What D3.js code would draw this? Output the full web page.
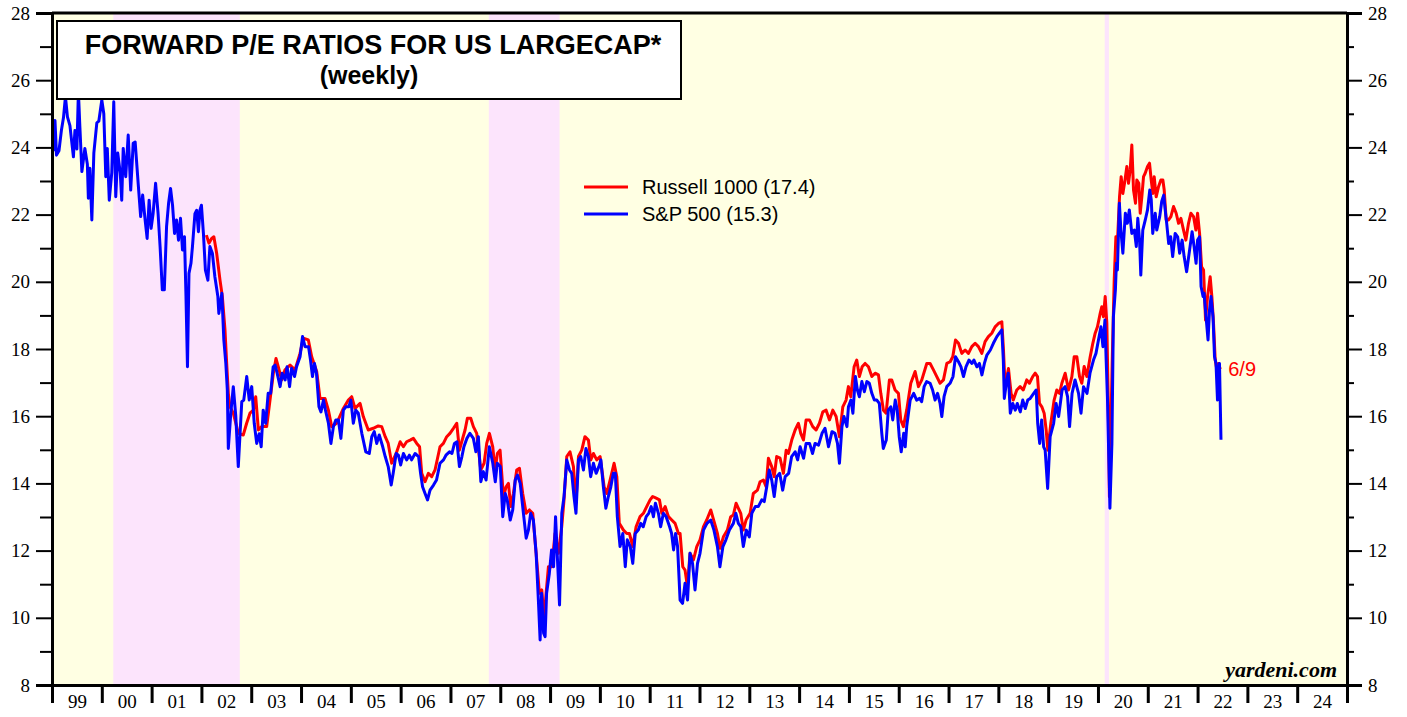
<!DOCTYPE html>
<html><head><meta charset="utf-8">
<script src="https://cdn.jsdelivr.net/npm/d3@7/dist/d3.min.js"></script>
<style>body{margin:0;background:#fff;overflow:hidden}</style>
</head><body><svg id="c" width="1407" height="717"></svg>
<script>
// ---------------- DATA ----------------
const yearLabels = ["99","00","01","02","03","04","05","06","07","08","09","10","11","12","13","14","15","16","17","18","19","20","21","22","23","24"];
const yTicks = [8,10,12,14,16,18,20,22,24,26,28];
const shadeStart = [2000.23, 2007.77, 2020.135];
const shadeEnd   = [2002.77, 2009.19, 2020.22];
const seriesNames = ["Russell 1000 (17.4)", "S&P 500 (15.3)"];
const lastLabel = "6/9";

const spxDates = [1999.00,1999.03,1999.06,1999.09,1999.14,1999.19,1999.23,1999.27,1999.31,1999.36,1999.43,1999.46,1999.50,1999.53,1999.56,1999.60,1999.66,1999.71,1999.73,1999.76,1999.80,1999.84,1999.90,1999.94,2000.00,2000.04,2000.08,2000.11,2000.15,2000.20,2000.24,2000.28,2000.32,2000.37,2000.40,2000.43,2000.48,2000.53,2000.58,2000.63,2000.67,2000.73,2000.78,2000.82,2000.87,2000.91,2000.95,2000.99,2001.03,2001.08,2001.13,2001.17,2001.215,2001.255,2001.30,2001.34,2001.38,2001.42,2001.46,2001.50,2001.54,2001.58,2001.62,2001.66,2001.69,2001.72,2001.75,2001.79,2001.82,2001.87,2001.905,2001.94,2001.97,2002.00,2002.04,2002.08,2002.13,2002.17,2002.22,2002.27,2002.33,2002.35,2002.41,2002.45,2002.49,2002.52,2002.54,2002.59,2002.64,2002.69,2002.74,2002.81,2002.85,2002.91,2002.96,2003.01,2003.06,2003.11,2003.16,2003.20,2003.24,2003.29,2003.34,2003.39,2003.44,2003.48,2003.52,2003.58,2003.62,2003.68,2003.72,2003.77,2003.81,2003.87,2003.91,2003.98,2004.03,2004.08,2004.15,2004.19,2004.23,2004.27,2004.31,2004.36,2004.40,2004.45,2004.49,2004.55,2004.60,2004.65,2004.70,2004.75,2004.80,2004.85,2004.90,2004.96,2005.00,2005.05,2005.10,2005.15,2005.22,2005.30,2005.37,2005.42,2005.47,2005.52,2005.57,2005.64,2005.69,2005.75,2005.81,2005.85,2005.91,2005.955,2006.00,2006.055,2006.12,2006.175,2006.22,2006.29,2006.36,2006.40,2006.44,2006.49,2006.54,2006.59,2006.66,2006.72,2006.79,2006.86,2006.91,2006.98,2007.03,2007.08,2007.13,2007.18,2007.23,2007.27,2007.33,2007.39,2007.46,2007.51,2007.56,2007.61,2007.66,2007.715,2007.78,2007.85,2007.90,2007.94,2008.00,2008.05,2008.10,2008.14,2008.20,2008.25,2008.30,2008.345,2008.40,2008.465,2008.52,2008.565,2008.61,2008.665,2008.72,2008.765,2008.80,2008.83,2008.87,2008.90,2008.93,2008.985,2009.03,2009.07,2009.11,2009.155,2009.19,2009.235,2009.28,2009.335,2009.39,2009.435,2009.48,2009.52,2009.57,2009.615,2009.67,2009.72,2009.77,2009.815,2009.87,2009.925,2009.98,2010.02,2010.07,2010.12,2010.17,2010.22,2010.27,2010.31,2010.35,2010.405,2010.46,2010.51,2010.55,2010.61,2010.66,2010.71,2010.77,2010.82,2010.87,2010.93,2010.98,2011.03,2011.075,2011.115,2011.175,2011.22,2011.275,2011.33,2011.40,2011.44,2011.48,2011.52,2011.56,2011.61,2011.66,2011.71,2011.76,2011.81,2011.86,2011.91,2011.96,2012.01,2012.08,2012.15,2012.225,2012.29,2012.36,2012.41,2012.47,2012.53,2012.60,2012.68,2012.73,2012.78,2012.83,2012.88,2012.94,2013.00,2013.05,2013.12,2013.18,2013.25,2013.30,2013.35,2013.40,2013.45,2013.50,2013.55,2013.61,2013.67,2013.72,2013.79,2013.85,2013.92,2013.97,2014.02,2014.09,2014.14,2014.21,2014.27,2014.32,2014.39,2014.46,2014.52,2014.59,2014.66,2014.72,2014.77,2014.81,2014.86,2014.90,2014.96,2014.99,2015.04,2015.08,2015.13,2015.17,2015.21,2015.26,2015.31,2015.36,2015.41,2015.46,2015.51,2015.56,2015.61,2015.66,2015.69,2015.75,2015.79,2015.84,2015.88,2015.93,2015.97,2016.01,2016.05,2016.10,2016.13,2016.16,2016.23,2016.30,2016.36,2016.42,2016.46,2016.51,2016.56,2016.63,2016.68,2016.73,2016.78,2016.83,2016.865,2016.91,2016.965,2017.03,2017.09,2017.14,2017.20,2017.25,2017.30,2017.35,2017.41,2017.47,2017.51,2017.57,2017.62,2017.67,2017.72,2017.77,2017.84,2017.90,2017.97,2018.02,2018.07,2018.10,2018.12,2018.17,2018.20,2018.24,2018.29,2018.34,2018.38,2018.44,2018.49,2018.54,2018.59,2018.64,2018.71,2018.76,2018.79,2018.83,2018.87,2018.91,2018.94,2018.99,2019.04,2019.11,2019.16,2019.21,2019.28,2019.34,2019.39,2019.43,2019.48,2019.54,2019.61,2019.66,2019.71,2019.78,2019.84,2019.91,2019.96,2020.01,2020.06,2020.10,2020.14,2020.165,2020.19,2020.22,2020.24,2020.28,2020.31,2020.35,2020.37,2020.39,2020.43,2020.46,2020.50,2020.55,2020.59,2020.63,2020.68,2020.73,2020.77,2020.80,2020.835,2020.86,2020.90,2020.95,2020.995,2021.04,2021.07,2021.10,2021.15,2021.18,2021.24,2021.28,2021.32,2021.35,2021.38,2021.42,2021.46,2021.50,2021.55,2021.60,2021.64,2021.69,2021.73,2021.78,2021.84,2021.89,2021.93,2021.97,2022.00,2022.04,2022.07,2022.11,2022.13,2022.17,2022.21,2022.24,2022.27,2022.31,2022.34,2022.37,2022.40,2022.42,2022.44,2022.47];
const spxValues = [24.8,23.92,24.8,23.77,23.9,24.52,24.88,25.51,24.91,24.65,23.72,24.5,23.95,25.66,24.6,23.28,23.97,23.5,22.49,23.38,21.84,23.83,24.73,24.78,25.41,25.0,23.13,23.97,22.43,23.25,25.36,22.53,23.83,23.25,22.43,23.97,23.13,24.37,22.73,24.12,24.16,22.93,21.94,22.58,21.84,21.29,22.43,21.59,22.03,22.93,22.03,21.05,19.76,19.76,21.64,22.33,22.78,22.28,21.44,21.84,21.24,21.89,20.95,21.34,19.56,17.47,20.25,20.55,21.05,22.03,22.13,21.49,22.13,22.28,21.44,20.35,20.05,21.05,20.85,20.15,19.56,19.06,19.66,18.27,17.57,16.78,15.04,16.09,16.88,16.0,14.5,16.43,16.48,17.18,16.48,16.88,15.79,15.19,15.48,15.09,16.18,15.79,16.68,16.68,17.47,17.52,17.28,16.88,17.28,17.08,17.47,16.88,17.43,17.18,17.47,17.77,18.37,18.07,18.07,17.67,17.18,17.57,17.28,16.28,16.13,16.48,16.18,15.79,15.19,15.69,15.89,15.89,15.34,16.18,16.28,16.28,16.48,15.79,16.18,16.09,15.49,14.94,14.89,15.39,15.54,15.19,15.44,15.09,14.80,14.50,13.95,14.30,14.89,14.84,14.55,14.89,14.70,14.84,14.70,14.89,14.80,14.30,13.90,13.70,13.51,13.80,13.95,14.10,14.60,14.70,14.84,14.94,14.89,15.19,15.24,14.50,14.80,15.09,15.34,15.49,15.34,14.94,15.39,14.05,14.35,14.10,15.09,14.60,14.05,14.60,14.50,13.01,13.70,13.51,12.91,13.21,14.10,14.25,14.00,13.11,12.37,12.61,13.11,12.91,11.92,10.53,9.34,10.73,9.54,9.44,10.73,11.32,12.02,11.52,13.01,11.52,10.38,13.11,13.61,14.70,14.40,14.30,13.61,13.11,14.70,14.80,14.40,15.04,14.80,14.20,14.60,14.30,14.50,14.70,13.90,13.26,13.61,13.90,14.30,14.30,13.01,12.12,12.51,11.52,12.32,12.12,11.62,12.51,12.61,12.81,12.71,13.01,13.11,13.31,13.01,13.41,13.11,12.71,13.11,13.01,12.71,12.51,12.02,12.51,12.12,10.53,10.43,11.03,10.53,11.92,11.62,10.83,11.62,11.92,12.61,12.81,12.91,12.61,12.12,11.52,12.12,12.32,12.61,12.81,13.11,12.81,12.71,12.12,12.61,12.41,13.11,13.31,13.31,13.51,13.46,13.90,14.40,14.10,13.61,14.20,14.30,13.80,14.20,14.30,14.80,14.94,14.70,15.09,14.75,15.19,15.19,14.89,15.19,15.14,15.49,15.64,15.09,15.54,15.49,15.19,14.60,15.69,15.99,15.69,16.28,16.48,16.09,17.18,16.78,16.58,17.03,16.73,17.03,16.98,16.68,16.48,16.48,16.38,15.49,15.04,15.29,16.18,16.28,15.89,16.48,16.18,15.39,14.94,15.49,15.09,15.69,16.48,16.68,16.48,16.53,16.43,16.88,17.03,16.98,16.78,16.48,16.68,16.38,15.99,16.58,16.88,16.98,17.18,17.77,17.62,17.47,17.18,17.47,17.67,17.57,17.67,17.47,17.57,17.23,17.57,17.82,17.97,18.17,18.37,18.47,18.57,17.67,16.53,17.08,17.28,16.09,16.38,16.18,16.38,16.13,16.48,16.23,16.48,16.53,16.68,16.78,15.79,15.19,15.89,15.09,14.99,13.85,15.39,15.79,16.38,15.99,16.78,16.88,16.58,15.69,16.68,17.08,16.68,16.09,16.88,16.68,17.28,17.67,17.87,18.27,18.66,18.07,18.86,17.67,16.58,14.60,13.26,15.19,18.96,19.76,20.55,20.35,22.34,21.54,20.85,22.04,21.74,22.14,21.44,21.54,21.05,21.89,21.24,20.20,21.54,21.84,22.14,22.73,22.44,21.44,22.04,21.54,21.94,22.39,22.58,22.14,21.74,21.14,21.34,20.75,21.44,21.34,20.85,21.24,20.75,20.30,20.95,21.49,21.05,20.55,21.24,21.34,19.86,19.56,19.66,18.96,18.27,19.16,19.56,18.96,17.77,17.57,16.48,17.38,17.57,15.3];

const rusDates = [2002.10,2002.15,2002.205,2002.25,2002.306,2002.373,2002.42,2002.473,2002.507,2002.54,2002.574,2002.64,2002.741,2002.84,2002.908,2002.975,2003.042,2003.09,2003.143,2003.21,2003.31,2003.377,2003.444,2003.497,2003.544,2003.611,2003.678,2003.779,2003.879,2003.98,2004.046,2004.147,2004.214,2004.314,2004.381,2004.481,2004.549,2004.615,2004.716,2004.85,2004.95,2005.017,2005.084,2005.15,2005.185,2005.25,2005.35,2005.45,2005.55,2005.62,2005.69,2005.75,2005.82,2005.91,2005.99,2006.055,2006.12,2006.19,2006.256,2006.323,2006.38,2006.423,2006.49,2006.557,2006.624,2006.69,2006.79,2006.858,2006.925,2006.99,2007.06,2007.126,2007.18,2007.226,2007.293,2007.34,2007.407,2007.46,2007.527,2007.608,2007.675,2007.728,2007.782,2007.849,2007.896,2007.943,2007.996,2008.063,2008.117,2008.164,2008.21,2008.264,2008.33,2008.385,2008.45,2008.52,2008.585,2008.652,2008.72,2008.786,2008.833,2008.88,2008.92,2008.967,2009.034,2009.10,2009.167,2009.234,2009.28,2009.335,2009.40,2009.469,2009.52,2009.57,2009.636,2009.70,2009.77,2009.817,2009.87,2009.937,2010.004,2010.085,2010.138,2010.205,2010.285,2010.34,2010.39,2010.473,2010.54,2010.593,2010.66,2010.727,2010.807,2010.874,2010.94,2011.008,2011.06,2011.13,2011.196,2011.243,2011.31,2011.377,2011.443,2011.51,2011.577,2011.61,2011.664,2011.71,2011.757,2011.81,2011.878,2011.945,2012.01,2012.08,2012.145,2012.226,2012.293,2012.36,2012.413,2012.48,2012.56,2012.627,2012.68,2012.734,2012.781,2012.828,2012.88,2012.935,2013.016,2013.08,2013.163,2013.216,2013.283,2013.337,2013.384,2013.45,2013.50,2013.55,2013.618,2013.685,2013.74,2013.785,2013.852,2013.92,2013.986,2014.033,2014.087,2014.14,2014.207,2014.274,2014.34,2014.408,2014.475,2014.542,2014.61,2014.676,2014.743,2014.81,2014.877,2014.943,2014.99,2015.037,2015.104,2015.157,2015.21,2015.265,2015.325,2015.392,2015.46,2015.526,2015.593,2015.64,2015.693,2015.747,2015.813,2015.86,2015.927,2015.994,2016.04,2016.094,2016.16,2016.242,2016.329,2016.396,2016.463,2016.563,2016.63,2016.697,2016.764,2016.83,2016.898,2016.965,2017.032,2017.085,2017.14,2017.20,2017.266,2017.333,2017.40,2017.467,2017.534,2017.60,2017.668,2017.734,2017.80,2017.868,2017.935,2018.002,2018.07,2018.103,2018.136,2018.203,2018.256,2018.30,2018.37,2018.437,2018.50,2018.57,2018.624,2018.69,2018.74,2018.786,2018.826,2018.873,2018.92,2018.96,2018.994,2019.054,2019.12,2019.174,2019.228,2019.275,2019.342,2019.409,2019.476,2019.523,2019.576,2019.63,2019.676,2019.723,2019.777,2019.844,2019.897,2019.944,2019.99,2020.045,2020.078,2020.11,2020.145,2020.178,2020.205,2020.23,2020.285,2020.326,2020.36,2020.393,2020.433,2020.466,2020.50,2020.533,2020.58,2020.613,2020.647,2020.68,2020.714,2020.754,2020.78,2020.82,2020.848,2020.881,2020.915,2020.948,2020.995,2021.035,2021.069,2021.102,2021.129,2021.169,2021.216,2021.263,2021.303,2021.33,2021.37,2021.417,2021.464,2021.517,2021.57,2021.618,2021.665,2021.718,2021.765,2021.818,2021.865,2021.919,2021.966,2022.00,2022.04,2022.08,2022.12,2022.16,2022.20,2022.253,2022.287,2022.32,2022.354,2022.387,2022.42,2022.455];
const rusValues = [21.39,21.15,21.29,21.34,20.85,20.05,19.56,18.57,17.57,16.68,16.28,16.09,15.49,15.44,15.79,16.09,16.18,16.58,15.59,15.69,15.69,16.48,17.28,17.72,17.47,17.08,17.38,17.52,17.38,17.87,18.32,18.27,17.77,17.33,16.53,16.53,16.18,15.69,15.79,16.23,16.48,16.58,16.23,16.33,16.38,15.99,15.59,15.64,15.71,15.69,15.39,15.19,14.60,14.89,15.24,15.09,15.24,15.29,15.34,15.19,15.09,14.30,14.05,14.30,14.20,14.40,15.09,15.19,15.39,15.49,15.64,15.79,14.99,15.24,15.59,15.94,15.94,15.69,15.49,14.40,14.60,15.19,15.49,15.09,14.40,14.89,14.99,13.61,13.90,14.00,13.31,13.70,14.40,14.45,13.70,13.11,13.21,13.11,11.92,10.73,10.83,9.93,10.73,11.52,11.52,12.51,11.92,12.71,13.51,14.80,14.94,14.50,13.41,14.80,14.99,15.39,15.29,14.70,14.89,14.70,14.80,13.90,13.70,14.10,14.60,14.20,12.81,12.61,12.51,12.51,12.12,12.71,13.01,13.11,13.31,13.51,13.61,13.56,13.51,13.11,13.31,13.01,12.91,12.81,12.51,12.51,11.52,11.42,10.93,11.92,11.72,12.12,12.32,12.71,12.91,13.21,12.86,12.51,12.07,12.41,12.61,13.01,13.06,13.41,13.26,13.11,12.61,12.91,13.11,13.70,13.80,14.05,14.10,13.90,14.75,14.50,14.20,14.80,14.75,14.30,14.99,14.89,15.29,15.59,15.79,15.49,15.29,15.89,15.89,15.69,15.59,15.79,16.13,16.18,15.89,16.18,15.99,15.39,16.28,16.48,16.88,16.58,17.47,17.67,17.18,17.47,17.57,17.47,17.18,17.28,17.23,16.68,16.18,16.09,17.08,17.08,16.78,16.68,15.89,15.69,16.18,16.98,17.33,16.88,17.08,17.57,17.57,17.38,17.18,16.98,17.08,17.57,17.62,17.77,18.27,18.17,17.87,17.97,17.87,18.07,18.17,18.07,17.87,18.22,18.37,18.47,18.66,18.76,18.81,17.97,16.88,17.42,16.68,16.48,16.78,16.88,16.78,17.08,16.98,17.18,17.28,17.18,16.38,16.28,16.09,15.59,14.99,15.79,16.48,16.78,16.68,16.98,17.28,16.78,17.18,17.77,17.77,17.18,16.98,17.48,17.18,17.77,18.17,18.47,18.66,19.06,19.26,18.96,19.56,18.76,16.58,13.6,17.57,20.05,21.34,21.24,22.53,23.13,22.63,22.93,23.43,22.93,23.33,24.07,22.73,22.34,23.03,22.93,22.04,22.53,23.13,23.23,23.43,23.53,23.03,22.63,23.13,22.53,22.83,23.03,23.03,22.73,21.84,21.84,21.94,22.24,22.04,21.74,21.89,21.54,21.24,21.74,22.04,21.94,21.54,22.04,21.44,20.45,20.35,18.86,19.56,20.15,19.56,18.76,17.67,17.38,17.57,17.4];

// ---------------- CHART ----------------
const svg = d3.select("#c");
const L = 52, R = 1347, T = 13, B = 685;
const x = d3.scaleLinear().domain([1999, 2025]).range([L, R]);
const y = d3.scaleLinear().domain([8, 28]).range([B, T]);
const yellow = "#FFFFE3", pink = "#FCE4FC";

svg.append("rect").attr("x", L).attr("y", T).attr("width", R - L).attr("height", B - T).attr("fill", yellow);
svg.append("g").selectAll("rect").data(shadeStart).join("rect")
  .attr("x", d => x(d)).attr("y", T)
  .attr("width", (d, i) => x(shadeEnd[i]) - x(d)).attr("height", B - T)
  .attr("fill", pink);

svg.append("defs").append("clipPath").attr("id", "clip")
  .append("rect").attr("x", L).attr("y", T).attr("width", R - L).attr("height", B - T);

const line = d3.line().x(d => x(d[0])).y(d => y(d[1]));
const rus = rusDates.map((d, i) => [d, rusValues[i]]);
const spx = spxDates.map((d, i) => [d, spxValues[i]]);
const gl = svg.append("g").attr("clip-path", "url(#clip)");
gl.append("path").datum(rus).attr("d", line).attr("fill", "none").attr("stroke", "#FF0000").attr("stroke-width", 3).attr("stroke-linejoin", "round");
gl.append("path").datum(spx).attr("d", line).attr("fill", "none").attr("stroke", "#0000FF").attr("stroke-width", 3).attr("stroke-linejoin", "round");

// last label
const lastR = rus[rus.length - 1];
svg.append("text").attr("x", x(lastR[0]) + 8).attr("y", y(lastR[1]) + 7)
  .attr("fill", "#FF0000").attr("font-family", "Liberation Sans, Arial").attr("font-size", 20).text(lastLabel);

// axes
const serif = "Liberation Serif, Times New Roman, serif";
const yl = svg.append("g").attr("transform", `translate(${L},0)`)
  .call(d3.axisLeft(y).tickValues(yTicks).tickSize(16).tickPadding(6).tickFormat(d3.format("d")));
const ylm = svg.append("g").attr("transform", `translate(${L},0)`)
  .call(d3.axisLeft(y).tickValues(d3.range(9, 28, 2)).tickSize(12).tickFormat(""));
const yr = svg.append("g").attr("transform", `translate(${R},0)`)
  .call(d3.axisRight(y).tickValues(yTicks).tickSize(15).tickPadding(6).tickFormat(d3.format("d")));
const yrm = svg.append("g").attr("transform", `translate(${R},0)`)
  .call(d3.axisRight(y).tickValues(d3.range(9, 28, 2)).tickSize(7).tickFormat(""));
const xb = svg.append("g").attr("transform", `translate(0,${B})`)
  .call(d3.axisBottom(x).tickValues(d3.range(1999, 2026)).tickSize(18).tickFormat(""));
const xl = svg.append("g").attr("transform", `translate(0,${B})`)
  .call(d3.axisBottom(x).tickValues(d3.range(1999.5, 2025, 1)).tickSize(0).tickPadding(10)
    .tickFormat((d, i) => yearLabels[i]));
xl.select(".domain").remove();
[yl, ylm, yr, yrm, xb].forEach(g => {
  g.selectAll(".tick line").attr("stroke", "#000").attr("stroke-width", 2);
  g.select(".domain").attr("stroke", "#000").attr("stroke-width", 3);
});
xb.selectAll(".tick line").attr("stroke-width", 3);
[yl, yr, xl].forEach(g => g.selectAll("text").attr("font-family", serif).attr("font-size", 19).attr("fill", "#000"));
// top border
svg.append("line").attr("x1", L).attr("x2", R).attr("y1", T).attr("y2", T).attr("stroke", "#000").attr("stroke-width", 3);

// title box
svg.append("rect").attr("x", 57).attr("y", 21).attr("width", 624).attr("height", 78)
  .attr("fill", "#fff").attr("stroke", "#000").attr("stroke-width", 2);
svg.append("text").attr("x", 373).attr("y", 54).attr("text-anchor", "middle")
  .attr("font-family", "Liberation Sans, Arial").attr("font-weight", "bold").attr("font-size", 27)
  .text("FORWARD P/E RATIOS FOR US LARGECAP*");
svg.append("text").attr("x", 369).attr("y", 84).attr("text-anchor", "middle")
  .attr("font-family", "Liberation Sans, Arial").attr("font-weight", "bold").attr("font-size", 25)
  .text("(weekly)");

// legend
const legColors = ["#FF0000", "#0000FF"];
const lg = svg.append("g");
seriesNames.forEach((n, i) => {
  const yy = 187 + i * 27;
  lg.append("line").attr("x1", 584).attr("x2", 628).attr("y1", yy).attr("y2", yy)
    .attr("stroke", legColors[i]).attr("stroke-width", 3);
  lg.append("text").attr("x", 642).attr("y", yy + 7).attr("font-family", "Liberation Sans, Arial")
    .attr("font-size", 20).attr("fill", "#000").text(n);
});

// credit
svg.append("text").attr("x", 1337).attr("y", 677).attr("text-anchor", "end")
  .attr("font-family", serif).attr("font-style", "italic").attr("font-weight", "bold")
  .attr("font-size", 22).text("yardeni.com");
</script>
</body></html>
